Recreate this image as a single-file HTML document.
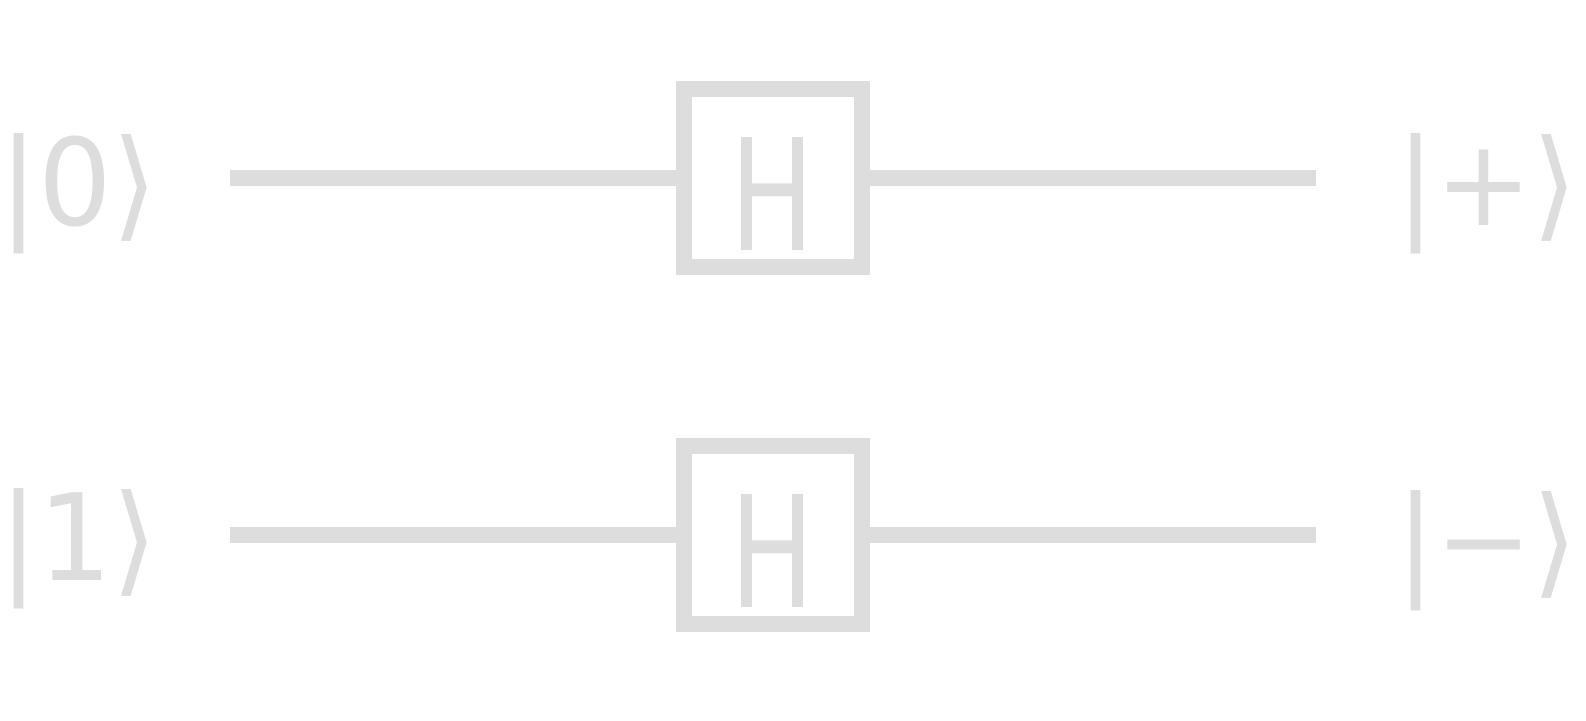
<!DOCTYPE html>
<html><head><meta charset="utf-8"><style>
html,body{margin:0;padding:0;background:#fff;}
svg{display:block;}
text{font-family:"DejaVu Sans","Liberation Sans",sans-serif;fill:#dddddd;}
</style></head><body>
<svg width="1586" height="721" viewBox="0 0 1586 721">
<g>
  <text x="-1" y="225" font-size="120" textLength="158" lengthAdjust="spacingAndGlyphs">|0⟩</text>
  <rect x="230" y="170" width="454" height="16" fill="#dddddd"/>
  <rect x="862" y="170" width="454" height="16" fill="#dddddd"/>
  <rect x="684" y="89" width="178" height="178" fill="none" stroke="#dddddd" stroke-width="16"/>
  <text x="730" y="250" font-size="155" textLength="84" lengthAdjust="spacingAndGlyphs">H</text>
  <text x="1396" y="225" font-size="120" textLength="181" lengthAdjust="spacingAndGlyphs">|+⟩</text>
</g>
<g>
  <text x="-1" y="580" font-size="120" textLength="158" lengthAdjust="spacingAndGlyphs">|1⟩</text>
  <rect x="230" y="527" width="454" height="16" fill="#dddddd"/>
  <rect x="862" y="527" width="454" height="16" fill="#dddddd"/>
  <rect x="684" y="446" width="178" height="178" fill="none" stroke="#dddddd" stroke-width="16"/>
  <text x="730" y="607" font-size="155" textLength="84" lengthAdjust="spacingAndGlyphs">H</text>
  <text x="1396" y="582" font-size="120" textLength="181" lengthAdjust="spacingAndGlyphs">|−⟩</text>
</g>
</svg>
</body></html>
